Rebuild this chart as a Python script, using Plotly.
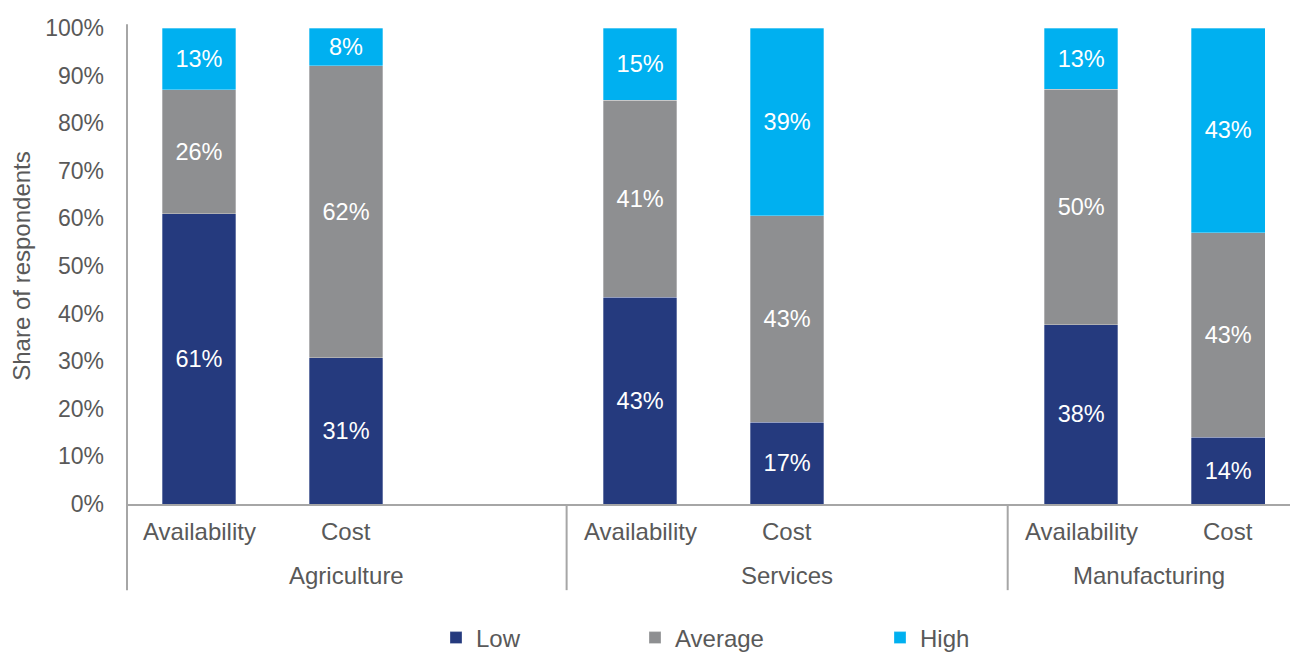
import plotly.graph_objects as go

sectors = ["Agriculture", "Services", "Manufacturing"]
measures = ["Availability", "Cost"]
series_names = ["Low", "Average", "High"]
colors = ["#253a7e", "#8e8f91", "#00b0f0"]
# values per bar, order: Agri-Avail, Agri-Cost, Serv-Avail, Serv-Cost, Manu-Avail, Manu-Cost
low = [61, 31, 43, 17, 38, 14]
average = [26, 62, 41, 43, 50, 43]
high = [13, 8, 15, 39, 13, 43]
values = [low, average, high]
y_ticks = [0, 10, 20, 30, 40, 50, 60, 70, 80, 90, 100]
y_ticklabels = [f"{v}%" for v in y_ticks]

FONT = "Liberation Sans, Arial, sans-serif"
TXT = "#595959"
AXC = "#a6a6a6"

# x positions: each sector occupies 3 slots (third slot empty)
xpos = [g * 3 + m for g in range(len(sectors)) for m in range(len(measures))]
xmin, xmax = -0.49, 7.42

fig = go.Figure()
for i, (name, vals, col) in enumerate(zip(series_names, values, colors)):
    fig.add_trace(go.Bar(
        x=xpos, y=vals, name=name, width=0.5, showlegend=True,
        marker=dict(color=col, line=dict(width=0.6, color="rgba(255,255,255,0.5)")),
        text=[f"{v}%" for v in vals], textposition="inside",
        insidetextanchor="middle", textangle=0,
        textfont=dict(family=FONT, size=23.5, color="white"),
        legend="legend" if i == 0 else f"legend{i+1}",
    ))

annotations = []
for g, sec in enumerate(sectors):
    for m, meas in enumerate(measures):
        annotations.append(dict(x=g * 3 + m, y=-0.057, xref="x", yref="paper",
                                text=meas, showarrow=False, yanchor="middle",
                                font=dict(family=FONT, size=24, color=TXT)))
    left = max(g * 3 - 0.5, xmin)
    right = min(g * 3 + 2.5, xmax)
    annotations.append(dict(x=(left + right) / 2, y=-0.151, xref="x", yref="paper",
                            text=sec, showarrow=False, yanchor="middle",
                            font=dict(family=FONT, size=24, color=TXT)))

shapes = [dict(type="line", xref="paper", yref="paper", x0=0, x1=0, y0=-0.181, y1=1.008,
               line=dict(color=AXC, width=2))]
for g in range(1, len(sectors)):
    shapes.append(dict(type="line", xref="x", yref="paper", x0=g * 3 - 0.5, x1=g * 3 - 0.5,
                       y0=-0.181, y1=0, line=dict(color=AXC, width=2)))

leg_common = dict(orientation="h", yanchor="middle", yref="container", y=1 - 638 / 652,
                  xanchor="left", xref="container",
                  font=dict(family=FONT, size=24, color=TXT), bgcolor="rgba(0,0,0,0)")
fig.update_layout(
    barmode="stack", barnorm="percent",
    width=1290, height=652, showlegend=True,
    margin=dict(l=127, r=0, t=28, b=148, autoexpand=False),
    plot_bgcolor="white", paper_bgcolor="white",
    font=dict(family=FONT, size=23, color=TXT),
    xaxis=dict(range=[xmin, xmax], showticklabels=False, showgrid=False, zeroline=False,
               showline=True, linecolor=AXC, linewidth=2, ticks="", automargin=False),
    yaxis=dict(range=[0, 100], tickvals=y_ticks, ticktext=y_ticklabels, showgrid=False,
               zeroline=False, showline=False, ticks="", automargin=False,
               ticklabelstandoff=22,
               tickfont=dict(family=FONT, size=23, color=TXT),
               title=dict(text="Share of respondents", standoff=7,
                          font=dict(family=FONT, size=24, color=TXT))),
    annotations=annotations, shapes=shapes,
    uniformtext=dict(mode=False),
    legend=dict(x=436 / 1290, **leg_common),
    legend2=dict(x=635 / 1290, **leg_common),
    legend3=dict(x=880 / 1290, **leg_common),
)
fig.write_html("out.html", config={"displayModeBar": False},
               post_script="document.body.style.margin='0';document.body.style.overflow='hidden';")
